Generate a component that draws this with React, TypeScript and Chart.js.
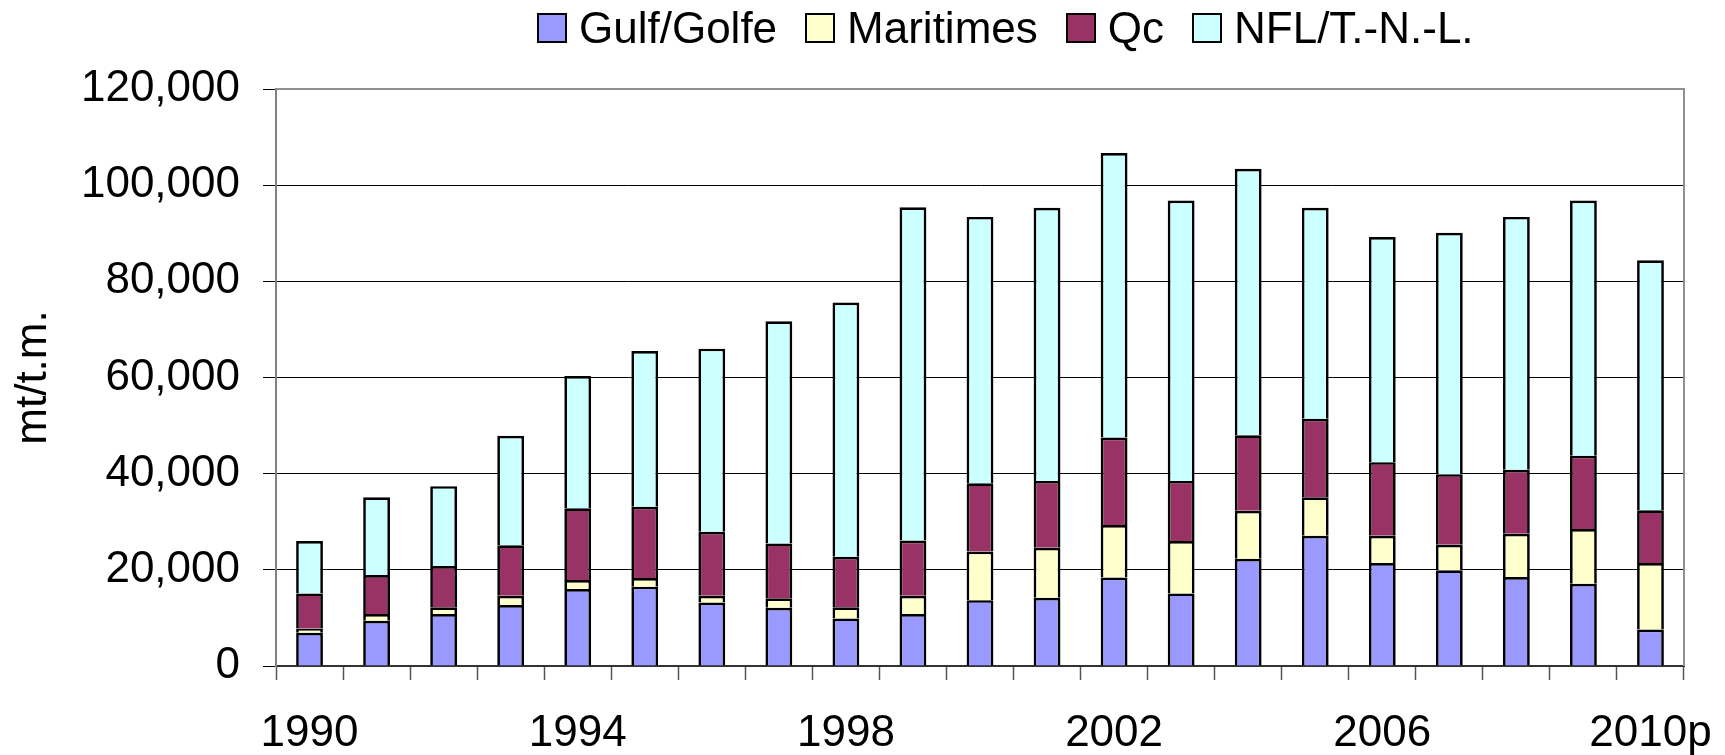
import React, { useEffect, useRef } from "react";
import { Chart, registerables } from "chart.js";

Chart.register(...registerables);

const categories = [
  "1990", "1991", "1992", "1993", "1994", "1995", "1996", "1997", "1998", "1999",
  "2000", "2001", "2002", "2003", "2004", "2005", "2006", "2007", "2008", "2009", "2010p",
];

const gulf = [6900, 9400, 10800, 12700, 16000, 16500, 13200, 12100, 9900, 10800, 13700, 14200, 18400, 15100, 22300, 27100, 21400, 19900, 18500, 17100, 7600];
const maritimes = [900, 1400, 1400, 1900, 1900, 1800, 1400, 2000, 2300, 3800, 10100, 10400, 10900, 10900, 10000, 8000, 5700, 5300, 9000, 11400, 13800];
const qc = [7300, 8100, 8600, 10500, 14900, 14800, 13300, 11400, 10500, 11500, 14200, 13900, 18200, 12500, 15700, 16300, 15300, 14700, 13300, 15250, 11000];
const nfl = [10900, 16200, 16600, 22800, 27500, 32400, 38100, 46200, 52900, 69300, 55400, 56800, 59200, 58300, 55400, 43900, 46800, 50200, 52600, 53050, 52000];

const seriesNames = ["Gulf/Golfe", "Maritimes", "Qc", "NFL/T.-N.-L."];
const seriesColors = ["#9999FF", "#FFFFCC", "#993366", "#CCFFFF"];

const yMin = 0;
const yMax = 120000;
const yStep = 20000;
const yTitle = "mt/t.m.";

const FONT = "'Liberation Sans', Arial, sans-serif";

export default function App() {
  const canvasRef = useRef<HTMLCanvasElement | null>(null);

  useEffect(() => {
    if (!canvasRef.current) return;
    const borderPlugin = {
      id: "plotBorder",
      afterDraw(chart: any) {
        const { ctx, chartArea } = chart;
        ctx.save();
        ctx.strokeStyle = "#909090";
        ctx.lineWidth = 2;
        ctx.beginPath();
        ctx.moveTo(chartArea.left, chartArea.top);
        ctx.lineTo(chartArea.right, chartArea.top);
        ctx.lineTo(chartArea.right, chartArea.bottom);
        ctx.stroke();
        ctx.restore();
      },
    };
    const series = [gulf, maritimes, qc, nfl];
    const chart = new Chart(canvasRef.current, {
      type: "bar",
      data: {
        labels: categories,
        datasets: series.map((d, i) => ({
          label: seriesNames[i],
          data: d,
          backgroundColor: seriesColors[i],
          borderColor: "#000000",
          borderWidth: 2.7,
          borderSkipped: "start",
          categoryPercentage: 1,
          barPercentage: 0.4,
        })),
      },
      options: {
        animation: false,
        responsive: false,
        maintainAspectRatio: false,
        layout: { padding: { top: 89, right: 41, bottom: 0, left: 0 } },
        plugins: {
          legend: { display: false },
          tooltip: { enabled: false },
        },
        scales: {
          x: {
            stacked: true,
            afterFit(scale: any) {
              scale.height = 89;
              scale.paddingLeft = 0;
              scale.paddingRight = 0;
            },
            grid: {
              offset: true,
              drawOnChartArea: false,
              drawTicks: true,
              tickLength: 14,
              tickColor: "#555555",
              tickWidth: 1.5,
            },
            border: { display: true, color: "#333333", width: 2 },
            ticks: {
              autoSkip: false,
              maxRotation: 0,
              minRotation: 0,
              padding: 27,
              color: "#000000",
              font: { family: FONT, size: 44 },
              callback: (_v: any, i: number) => (i % 4 === 0 ? categories[i] : ""),
            },
          },
          y: {
            stacked: true,
            min: yMin,
            max: yMax,
            afterFit(scale: any) {
              scale.width = 276;
            },
            grid: {
              color: "#000000",
              lineWidth: 1,
              drawTicks: true,
              tickLength: 13,
              tickColor: "#000000",
            },
            border: { display: true, color: "#808080", width: 2 },
            ticks: {
              stepSize: yStep,
              padding: 23,
              color: "#000000",
              font: { family: FONT, size: 44 },
              callback: (v: any) => Number(v).toLocaleString("en-US"),
            },
            title: {
              display: true,
              text: yTitle,
              color: "#000000",
              font: { family: FONT, size: 44 },
              padding: { top: 7, bottom: 0 },
            },
          },
        },
      },
      plugins: [borderPlugin],
    });
    return () => chart.destroy();
  }, []);

  return (
    <div style={{ position: "absolute", left: 0, top: 0, width: 1725, height: 755, background: "#ffffff" }}>
      <canvas ref={canvasRef} width={1725} height={755} style={{ display: "block" }} />
      <div
        style={{
          position: "absolute",
          left: 537,
          top: 6,
          display: "flex",
          alignItems: "flex-start",
          fontFamily: FONT,
          fontSize: 44,
          lineHeight: "44px",
          color: "#000",
          whiteSpace: "nowrap",
        }}
      >
        {seriesNames.map((name, i) => (
          <div key={name} style={{ display: "flex", alignItems: "flex-start", marginRight: i < seriesNames.length - 1 ? 28 : 0 }}>
            <div
              style={{
                width: 30,
                height: 30,
                boxSizing: "border-box",
                border: "2px solid #000",
                background: seriesColors[i],
                marginTop: 7,
                marginRight: 12,
              }}
            />
            <span>{name}</span>
          </div>
        ))}
      </div>
    </div>
  );
}
